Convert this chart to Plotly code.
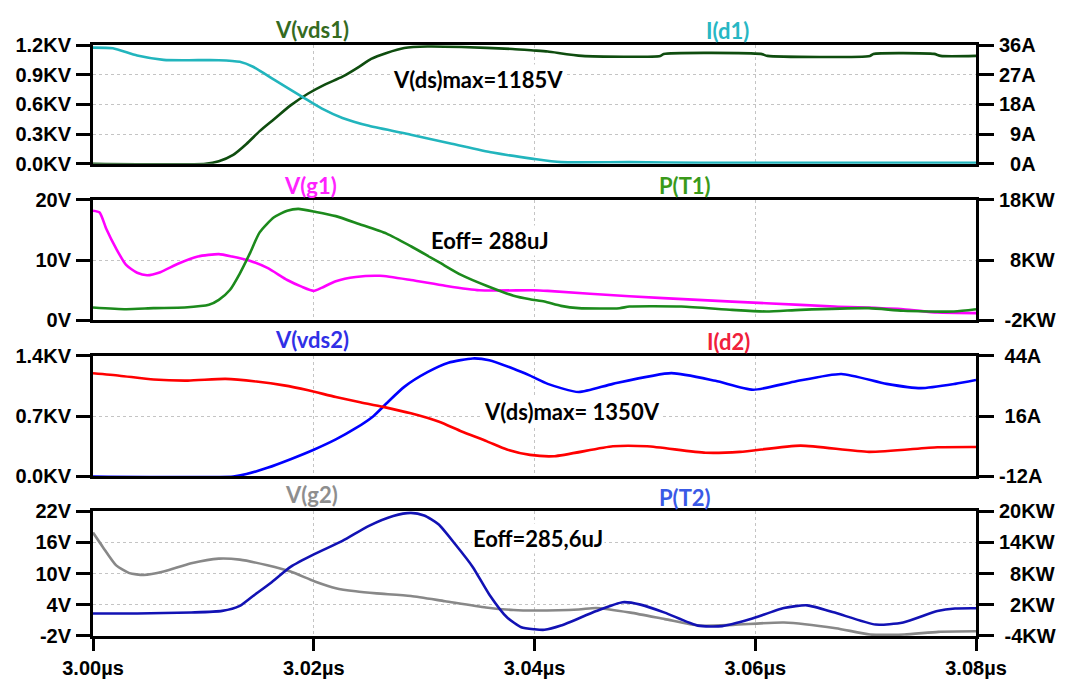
import plotly.graph_objects as go

# ---------------- waveform data (time in µs) ----------------
# Panel 1: drain-source voltage of T1 [kV] and diode current I(d1) [A]
vds1_t = [3.0000, 3.0102, 3.0114, 3.0127, 3.0139, 3.0151, 3.0164, 3.0179, 3.0195, 3.0210,
          3.0226, 3.0241, 3.0252, 3.0266, 3.0282, 3.0303, 3.0334, 3.0380, 3.0399, 3.0412,
          3.0443, 3.0514, 3.0517, 3.0605, 3.0611, 3.0704, 3.0707, 3.0762, 3.0768, 3.0800]
vds1_v = [0.0, 0.0, 0.026, 0.09, 0.20, 0.33, 0.45, 0.59, 0.71, 0.80,
          0.88, 0.98, 1.06, 1.12, 1.17, 1.185, 1.18, 1.16, 1.145, 1.134,
          1.09, 1.09, 1.11, 1.11, 1.09, 1.09, 1.11, 1.11, 1.09, 1.09]

id1_t = [3.0000, 3.0018, 3.0040, 3.0064, 3.0086, 3.0114, 3.0133, 3.0145, 3.0164, 3.0190,
         3.0207, 3.0226, 3.0250, 3.0288, 3.0325, 3.0362, 3.0399, 3.0424, 3.0486, 3.0550,
         3.0650, 3.0800]
id1_v = [35.2, 35.0, 32.8, 31.5, 31.4, 31.4, 30.9, 29.4, 25.5, 20.2,
         16.8, 13.9, 11.5, 8.8, 6.1, 3.4, 1.5, 0.5, 0.5, 0.3,
         0.3, 0.3]

# Panel 2: gate voltage V(g1) [V] and switching power P(T1) [kW]
vg1_t = [3.0000, 3.0006, 3.0012, 3.0021, 3.0030, 3.0040, 3.0049, 3.0061, 3.0077, 3.0095,
         3.0114, 3.0126, 3.0142, 3.0158, 3.0176, 3.0189, 3.0200, 3.0207, 3.0220, 3.0238,
         3.0260, 3.0288, 3.0319, 3.0350, 3.0399, 3.0412, 3.0486, 3.0548, 3.0610, 3.0672,
         3.0734, 3.0765, 3.0800]
vg1_v = [18.2, 17.9, 15.2, 11.9, 9.2, 7.9, 7.5, 8.0, 9.4, 10.6,
         11.0, 10.6, 9.9, 8.7, 6.7, 5.6, 4.9, 5.4, 6.5, 7.2,
         7.4, 6.7, 5.75, 5.0, 5.0, 4.9, 4.0, 3.4, 2.85, 2.3,
         1.85, 1.3, 1.2]

pt1_t = [3.0000, 3.0030, 3.0055, 3.0083, 3.0105, 3.0114, 3.0124, 3.0133, 3.0142, 3.0151,
         3.0164, 3.0176, 3.0186, 3.0202, 3.0220, 3.0241, 3.0266, 3.0288, 3.0313, 3.0334,
         3.0357, 3.0381, 3.0396, 3.0409, 3.0424, 3.0440, 3.0477, 3.0486, 3.0533, 3.0579,
         3.0610, 3.0641, 3.0703, 3.0734, 3.0780, 3.0800]
pt1_v = [0.14, -0.14, 0.03, 0.14, 0.58, 1.4, 3.04, 5.78, 9.07, 12.6,
         15.1, 16.2, 16.5, 16.0, 15.3, 14.0, 12.4, 10.3, 7.7, 5.5,
         3.7, 2.1, 1.5, 1.12, 0.41, 0.03, 0.03, 0.3, 0.3, -0.25,
         -0.52, -0.25, 0.03, -0.41, -0.52, -0.14]

# Panel 3: drain-source voltage of T2 [kV] and diode current I(d2) [A]
vds2_t = [3.0000, 3.0127, 3.0139, 3.0158, 3.0179, 3.0200, 3.0220, 3.0238, 3.0254, 3.0266,
          3.0282, 3.0303, 3.0322, 3.0344, 3.0359, 3.0381, 3.0396, 3.0412, 3.0440, 3.0471,
          3.0524, 3.0564, 3.0598, 3.0635, 3.0678, 3.0719, 3.0750, 3.0781, 3.0800]
vds2_v = [0.0, 0.0, 0.027, 0.10, 0.20, 0.31, 0.43, 0.56, 0.70, 0.85,
          1.04, 1.21, 1.32, 1.37, 1.35, 1.25, 1.17, 1.075, 0.98, 1.075,
          1.20, 1.11, 1.007, 1.10, 1.19, 1.075, 1.025, 1.075, 1.12]

id2_t = [3.0000, 3.0024, 3.0055, 3.0086, 3.0120, 3.0148, 3.0173, 3.0195, 3.0220, 3.0241,
         3.0263, 3.0288, 3.0313, 3.0334, 3.0357, 3.0375, 3.0396, 3.0418, 3.0471, 3.0502,
         3.0555, 3.0586, 3.0641, 3.0703, 3.0765, 3.0800]
id2_v = [35.9, 34.8, 33.0, 32.5, 33.3, 32.1, 30.3, 28.0, 24.9, 22.6,
         20.3, 17.3, 13.5, 8.9, 4.3, 0.5, -2.0, -2.6, 2.0, 2.0,
         -1.0, -0.6, 2.3, -0.6, 1.56, 1.7]

# Panel 4: gate voltage V(g2) [V] and switching power P(T2) [kW]
vg2_t = [3.0000, 3.0009, 3.0021, 3.0033, 3.0046, 3.0064, 3.0089, 3.0114, 3.0133, 3.0158,
         3.0179, 3.0201, 3.0220, 3.0238, 3.0257, 3.0288, 3.0319, 3.0356, 3.0381, 3.0400,
         3.0440, 3.0456, 3.0487, 3.0518, 3.0549, 3.0580, 3.0626, 3.0673, 3.0704, 3.0735,
         3.0766, 3.0800]
vg2_v = [17.9, 15.1, 11.6, 10.1, 9.75, 10.4, 12.0, 12.9, 12.7, 11.6,
         10.4, 8.5, 7.2, 6.6, 6.2, 5.7, 4.7, 3.5, 3.0, 2.9,
         3.1, 3.4, 2.5, 1.25, 0.0, 0.13, 0.6, -0.5, -1.7, -1.7,
         -1.2, -1.1]

pt2_t = [3.0000, 3.0040, 3.0089, 3.0117, 3.0133, 3.0145, 3.0161, 3.0179, 3.0201, 3.0226,
         3.0250, 3.0272, 3.0288, 3.0300, 3.0313, 3.0328, 3.0344, 3.0359, 3.0375, 3.0388,
         3.0400, 3.0409, 3.0424, 3.0456, 3.0480, 3.0496, 3.0518, 3.0548, 3.0570, 3.0595,
         3.0626, 3.0647, 3.0672, 3.0709, 3.0734, 3.0765, 3.0781, 3.0800]
pt2_v = [0.34, 0.34, 0.53, 0.84, 1.8, 3.7, 6.2, 9.3, 11.8, 14.3,
         17.2, 19.1, 19.7, 19.2, 17.5, 13.7, 9.3, 4.0, -0.4, -2.3,
         -2.7, -2.8, -2.0, 0.8, 2.5, 2.04, 0.5, -2.0, -2.1, -0.8,
         1.4, 1.9, 0.5, -1.8, -1.4, 0.8, 1.3, 1.35]

# ---------------- axis tick definitions ----------------
time_ticks = [3.00, 3.02, 3.04, 3.06, 3.08]
time_text = ["3.00µs", "3.02µs", "3.04µs", "3.06µs", "3.08µs"]

vds1_ticks = [0.0, 0.3, 0.6, 0.9, 1.2]
vds1_text = ["0.0KV", "0.3KV", "0.6KV", "0.9KV", "1.2KV"]
id1_ticks = [0, 9, 18, 27, 36]
id1_text = ["0A", "9A", "18A", "27A", "36A"]

vg1_ticks = [0, 10, 20]
vg1_text = ["0V", "10V", "20V"]
pt1_ticks = [-2, 8, 18]
pt1_text = ["-2KW", "8KW", "18KW"]

vds2_ticks = [0.0, 0.7, 1.4]
vds2_text = ["0.0KV", "0.7KV", "1.4KV"]
id2_ticks = [-12, 16, 44]
id2_text = ["-12A", "16A", "44A"]

vg2_ticks = [-2, 4, 10, 16, 22]
vg2_text = ["-2V", "4V", "10V", "16V", "22V"]
pt2_ticks = [-4, 2, 8, 14, 20]
pt2_text = ["-4KW", "2KW", "8KW", "14KW", "20KW"]


def pad_right(labels):
    """Right-justify right-hand tick labels using non-breaking spaces."""
    def width(s):
        w = 0.0
        for ch in s:
            if ch.isdigit():
                w += 0.556
            elif ch == "-":
                w += 0.333
            elif ch == "K":
                w += 0.722
            elif ch == "W":
                w += 0.944
            elif ch == "A":
                w += 0.722
            else:
                w += 0.5
        return w
    widest = max(width(s) for s in labels)
    return ["\u00a0" * int(round((widest - width(s)) / 0.278)) + s for s in labels]


# ---------------- styling ----------------
TICK_FONT = dict(family="Liberation Sans, Arial, sans-serif", size=20, color="black", weight="bold")
LABEL_FONT = "Lato, Open Sans, sans-serif"
GRID = "#c4c4c4"

# panel domains (bottom, top) in paper coordinates
domains = [[0.799, 1.0], [0.534, 0.738], [0.270, 0.474], [0.0, 0.211]]

fig = go.Figure()

panels = [
    dict(left=(vds1_t, vds1_v, "#0f4d0f"), right=(id1_t, id1_v, "#22b5bd"),
         lrange=[0, 1.2], lt=(vds1_ticks, vds1_text), rrange=[0, 36], rt=(id1_ticks, id1_text)),
    dict(left=(vg1_t, vg1_v, "#ff00ff"), right=(pt1_t, pt1_v, "#1c8a1c"),
         lrange=[0, 20], lt=(vg1_ticks, vg1_text), rrange=[-2, 18], rt=(pt1_ticks, pt1_text)),
    dict(left=(vds2_t, vds2_v, "#0000ff"), right=(id2_t, id2_v, "#ff0000"),
         lrange=[0, 1.4], lt=(vds2_ticks, vds2_text), rrange=[-12, 44], rt=(id2_ticks, id2_text)),
    dict(left=(vg2_t, vg2_v, "#888888"), right=(pt2_t, pt2_v, "#1212b4"),
         lrange=[-2, 22], lt=(vg2_ticks, vg2_text), rrange=[-4, 20], rt=(pt2_ticks, pt2_text)),
]

layout = {}
for i, p in enumerate(panels):
    n = i + 1
    xname = "x" if n == 1 else f"x{n}"
    ly = 2 * n - 1
    ry = 2 * n
    lyname = "y" if ly == 1 else f"y{ly}"
    ryname = f"y{ry}"

    t, v, c = p["left"]
    fig.add_trace(go.Scatter(x=t, y=v, mode="lines", line=dict(color=c, width=2.6, shape="spline", smoothing=0.6),
                             xaxis=xname, yaxis=lyname, showlegend=False, hoverinfo="skip"))
    t, v, c = p["right"]
    fig.add_trace(go.Scatter(x=t, y=v, mode="lines", line=dict(color=c, width=2.6, shape="spline", smoothing=0.6),
                             xaxis=xname, yaxis=ryname, showlegend=False, hoverinfo="skip"))

    bottom = (n == 4)
    layout["xaxis" if n == 1 else f"xaxis{n}"] = dict(
        domain=[0, 1], anchor=lyname, range=[3.0, 3.08],
        showline=True, linecolor="black", linewidth=3, mirror=True,
        showgrid=True, gridcolor=GRID, griddash="3px,3px", gridwidth=1,
        tickvals=time_ticks, ticktext=time_text if bottom else None,
        showticklabels=bottom, ticks="outside" if bottom else "",
        ticklen=12, tickwidth=3, tickcolor="black", tickfont=TICK_FONT,
        zeroline=False, fixedrange=True,
    )
    layout["yaxis" if ly == 1 else f"yaxis{ly}"] = dict(
        domain=domains[i], anchor=xname, range=p["lrange"],
        tickvals=p["lt"][0], ticktext=p["lt"][1],
        showline=True, linecolor="black", linewidth=3,
        ticks="outside", ticklen=14, tickwidth=3, tickcolor="black",
        ticklabelstandoff=1, tickfont=TICK_FONT,
        showgrid=True, gridcolor=GRID, griddash="3px,3px", gridwidth=1,
        zeroline=False, fixedrange=True,
    )
    layout[f"yaxis{ry}"] = dict(
        anchor=xname, overlaying=lyname, side="right", range=p["rrange"],
        tickvals=p["rt"][0], ticktext=pad_right(p["rt"][1]),
        showline=True, linecolor="black", linewidth=3,
        ticks="outside", ticklen=15, tickwidth=3, tickcolor="black",
        ticklabelstandoff=1, tickfont=TICK_FONT,
        showgrid=False, zeroline=False, fixedrange=True,
    )

# ---------------- trace names above each panel ----------------
names = [
    ("V(vds1)", 0.2483, 1.027, "#356b1f"), ("I(d1)", 0.719, 1.024, "#27b7c4"),
    ("V(g1)", 0.246, 0.763, "#ff22ff"), ("P(T1)", 0.671, 0.763, "#3a9a1a"),
    ("V(vds2)", 0.248, 0.501, "#3030e6"), ("I(d2)", 0.720, 0.499, "#f0203a"),
    ("V(g2)", 0.248, 0.240, "#8e8e8e"), ("P(T2)", 0.671, 0.235, "#3a5ae6"),
]
annotations = []
for text, x, y, color in names:
    annotations.append(dict(text=text, x=x, y=y, xref="paper", yref="paper",
                            xanchor="center", yanchor="middle", showarrow=False,
                            font=dict(family=LABEL_FONT, size=22, color=color, weight="bold")))

# ---------------- measurement notes ----------------
notes = [
    ("V(ds)max=1185V", 3.0349, 0.856, "x", "y"),
    ("Eoff= 288uJ", 3.0360, 13.2, "x2", "y3"),
    ("V(ds)max= 1350V", 3.0434, 0.751, "x3", "y5"),
    ("Eoff=285,6uJ", 3.0403, 16.7, "x4", "y7"),
]
for text, x, y, xr, yr in notes:
    annotations.append(dict(text=text, x=x, y=y, xref=xr, yref=yr,
                            xanchor="center", yanchor="middle", showarrow=False,
                            bgcolor="white", borderpad=1,
                            font=dict(family=LABEL_FONT, size=22, color="black", weight="bold")))

fig.update_layout(
    width=1068, height=691,
    margin=dict(l=93, r=85, t=45, b=39),
    paper_bgcolor="white", plot_bgcolor="white",
    showlegend=False, annotations=annotations,
    **layout,
)

fig.write_html("out.html")
